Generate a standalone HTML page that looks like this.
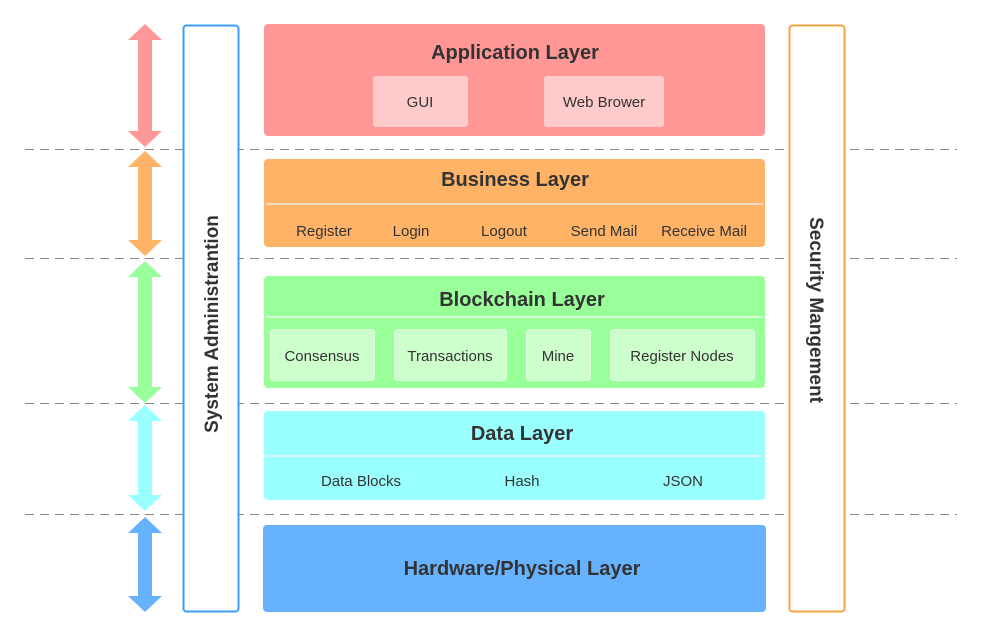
<!DOCTYPE html>
<html><head><meta charset="utf-8"><style>body{margin:0;background:#fff}svg{display:block}text{font-family:"Liberation Sans",sans-serif;fill:#333}</style></head><body>
<svg width="981" height="637" viewBox="0 0 981 637" xmlns="http://www.w3.org/2000/svg">
<g stroke="#888" stroke-width="1" stroke-dasharray="9,6">
<line x1="25" y1="149.5" x2="957" y2="149.5"/><line x1="25" y1="258.5" x2="957" y2="258.5"/><line x1="25" y1="403.5" x2="957" y2="403.5"/><line x1="25" y1="514.5" x2="957" y2="514.5"/>
</g>
<g>
<polygon fill="#ff9999" points="145,24 162,40 152,40 152,131 162,131 145,147 128,131 138,131 138,40 128,40"/>
<polygon fill="#ffb366" points="145,151 162,167 152,167 152,240 162,240 145,256 128,240 138,240 138,167 128,167"/>
<polygon fill="#99ff99" points="145,261 162,277 152,277 152,387 162,387 145,403 128,387 138,387 138,277 128,277"/>
<polygon fill="#99ffff" points="145,405 162,421 152,421 152,495 162,495 145,511 128,495 138,495 138,421 128,421"/>
<polygon fill="#66b2ff" points="145,517 162,533 152,533 152,596 162,596 145,612 128,596 138,596 138,533 128,533"/>
</g>
<rect x="183.5" y="25.5" width="55" height="586" rx="3" fill="#fff" stroke="#3d9df7" stroke-width="2"/>
<text transform="translate(218,324) rotate(-90)" text-anchor="middle" font-size="19" font-weight="bold">System Administrantion</text>
<rect x="789.5" y="25.5" width="55" height="586" rx="3" fill="#fff" stroke="#f5a340" stroke-width="2"/>
<text transform="translate(810,310) rotate(90)" text-anchor="middle" font-size="19" font-weight="bold">Security Mangement</text>

<rect x="264" y="24" width="501" height="112" rx="4" fill="#ff9797"/>
<text x="515" y="59" text-anchor="middle" font-size="20" font-weight="bold">Application Layer</text>
<rect x="373" y="76" width="95" height="51" rx="3" fill="#ffcaca"/>
<text x="420" y="107" text-anchor="middle" font-size="15">GUI</text>
<rect x="544" y="76" width="120" height="51" rx="3" fill="#ffcaca"/>
<text x="604" y="107" text-anchor="middle" font-size="15">Web Brower</text>

<rect x="264" y="159" width="501" height="88" rx="4" fill="#ffb366"/>
<text x="515" y="186" text-anchor="middle" font-size="20" font-weight="bold">Business Layer</text>
<line x1="266" y1="204" x2="763" y2="204" stroke="#f3dcc5" stroke-width="2"/>
<g font-size="15" text-anchor="middle"><text x="324" y="236">Register</text><text x="411" y="236">Login</text><text x="504" y="236">Logout</text><text x="604" y="236">Send Mail</text><text x="704" y="236">Receive Mail</text></g>

<rect x="264" y="276" width="501" height="112" rx="4" fill="#99ff99"/>
<text x="522" y="306" text-anchor="middle" font-size="20" font-weight="bold">Blockchain Layer</text>
<line x1="266" y1="317" x2="763" y2="317" stroke="#d8f8d8" stroke-width="2"/>
<g fill="#ccffcc" stroke="#e0ffe0" stroke-width="1"><rect x="270.5" y="329.5" width="104" height="51" rx="3"/><rect x="394.5" y="329.5" width="112" height="51" rx="3"/><rect x="526.5" y="329.5" width="64" height="51" rx="3"/><rect x="610.5" y="329.5" width="144" height="51" rx="3"/></g>
<g font-size="15" text-anchor="middle"><text x="322" y="361">Consensus</text><text x="450" y="361">Transactions</text><text x="558" y="361">Mine</text><text x="682" y="361">Register Nodes</text></g>

<rect x="264" y="411" width="501" height="89" rx="4" fill="#99ffff"/>
<text x="522" y="440" text-anchor="middle" font-size="20" font-weight="bold">Data Layer</text>
<line x1="266" y1="456" x2="763" y2="456" stroke="#d8f4f8" stroke-width="2"/>
<g font-size="15" text-anchor="middle"><text x="361" y="486">Data Blocks</text><text x="522" y="486">Hash</text><text x="683" y="486">JSON</text></g>

<rect x="263" y="525" width="503" height="87" rx="4" fill="#66b2ff"/>
<text x="522" y="575" text-anchor="middle" font-size="20" font-weight="bold">Hardware/Physical Layer</text>
</svg>
</body></html>
